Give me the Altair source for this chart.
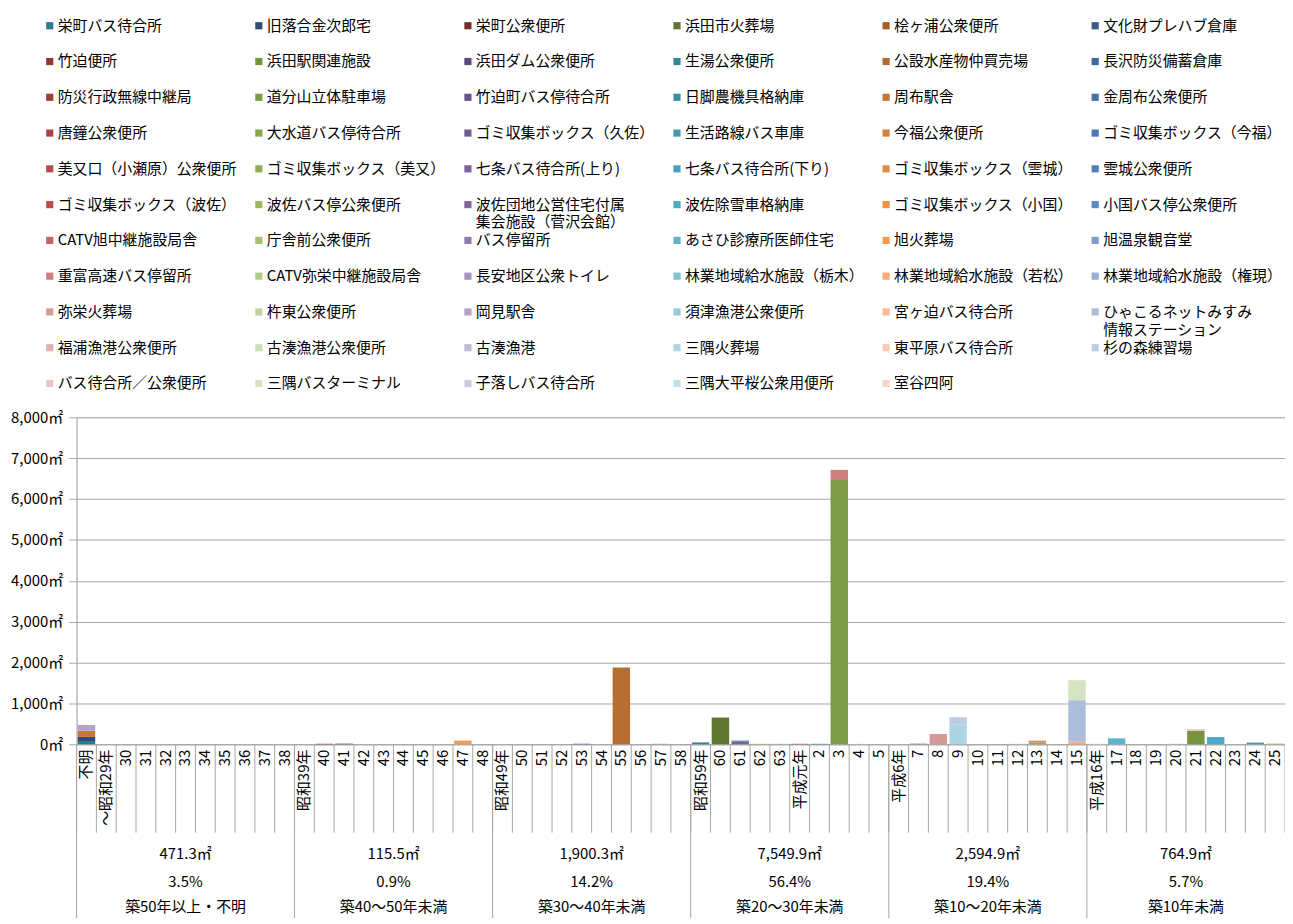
import altair as alt
import pandas as pd

# ---------------- data ----------------
categories = [
    "不明", "～昭和29年", "30", "31", "32", "33", "34", "35", "36", "37", "38",
    "昭和39年", "40", "41", "42", "43", "44", "45", "46", "47", "48",
    "昭和49年", "50", "51", "52", "53", "54", "55", "56", "57", "58",
    "昭和59年", "60", "61", "62", "63", "平成元年", "2", "3", "4", "5",
    "平成6年", "7", "8", "9", "10", "11", "12", "13", "14", "15",
    "平成16年", "17", "18", "19", "20", "21", "22", "23", "24", "25",
]

group_names = ["築50年以上・不明", "築40～50年未満", "築30～40年未満",
               "築20～30年未満", "築10～20年未満", "築10年未満"]
group_area = ["471.3㎡", "115.5㎡", "1,900.3㎡", "7,549.9㎡", "2,594.9㎡", "764.9㎡"]
group_share = ["3.5%", "0.9%", "14.2%", "56.4%", "19.4%", "5.7%"]
group_start = [0, 11, 21, 31, 41, 51]
group_size = [11, 10, 10, 10, 10, 10]

series_names = [
    "栄町バス待合所", "旧落合金次郎宅", "栄町公衆便所", "浜田市火葬場", "桧ヶ浦公衆便所", "文化財プレハブ倉庫",
    "竹迫便所", "浜田駅関連施設", "浜田ダム公衆便所", "生湯公衆便所", "公設水産物仲買売場", "長沢防災備蓄倉庫",
    "防災行政無線中継局", "道分山立体駐車場", "竹迫町バス停待合所", "日脚農機具格納庫", "周布駅舎", "金周布公衆便所",
    "唐鐘公衆便所", "大水道バス停待合所", "ゴミ収集ボックス（久佐）", "生活路線バス車庫", "今福公衆便所", "ゴミ収集ボックス（今福）",
    "美又口（小瀬原）公衆便所", "ゴミ収集ボックス（美又）", "七条バス待合所(上り)", "七条バス待合所(下り)", "ゴミ収集ボックス（雲城）", "雲城公衆便所",
    "ゴミ収集ボックス（波佐）", "波佐バス停公衆便所", "波佐団地公営住宅付属\n集会施設（菅沢会館）", "波佐除雪車格納庫", "ゴミ収集ボックス（小国）", "小国バス停公衆便所",
    "CATV旭中継施設局舎", "庁舎前公衆便所", "バス停留所", "あさひ診療所医師住宅", "旭火葬場", "旭温泉観音堂",
    "重富高速バス停留所", "CATV弥栄中継施設局舎", "長安地区公衆トイレ", "林業地域給水施設（栃木）", "林業地域給水施設（若松）", "林業地域給水施設（権現）",
    "弥栄火葬場", "杵東公衆便所", "岡見駅舎", "須津漁港公衆便所", "宮ヶ迫バス待合所", "ひゃこるネットみすみ\n情報ステーション",
    "福浦漁港公衆便所", "古湊漁港公衆便所", "古湊漁港", "三隅火葬場", "東平原バス待合所", "杉の森練習場",
    "バス待合所／公衆便所", "三隅バスターミナル", "子落しバス待合所", "三隅大平桜公衆用便所", "室谷四阿",
]

series_colors = [
    "#2F7B8D", "#2C4D75", "#772C2A", "#5F7530", "#A65D25", "#385D8A",
    "#953735", "#77933C", "#5F497A", "#31859C", "#B66D31", "#3F67A0",
    "#A03E3B", "#7F9B47", "#6A5189", "#3A8FA6", "#C67637", "#4671AA",
    "#AB4542", "#88A54D", "#735A96", "#419AB2", "#D6803C", "#4A79B6",
    "#B54C49", "#90AD53", "#7B61A0", "#46A3BD", "#E38A42", "#4F7FBB",
    "#BE4B48", "#99B95A", "#8164A2", "#4BACC6", "#F0913F", "#5E87C1",
    "#C66361", "#A4C26A", "#8F78AE", "#5DB5CC", "#F79A50", "#7F9CCB",
    "#CE7F7D", "#B2CC88", "#A294BF", "#7DC2D5", "#F8AB7C", "#97AED5",
    "#D69A98", "#BED69D", "#B0A5C8", "#95CCDB", "#F9BA96", "#ACBEDC",
    "#DFB0AF", "#CCDDB4", "#C1B8D5", "#ACD5E1", "#FAC8AF", "#BDCAE4",
    "#E8C6C5", "#D5E3C3", "#CFC8DE", "#C0E0E9", "#FBD5C4",
]

bar_category = [
    "不明", "不明", "不明", "不明",
    "40", "41", "47",
    "53", "55", "55", "57",
    "昭和59年", "60", "60", "61", "61", "62", "63", "平成元年", "2", "3", "3", "4",
    "7", "8", "9", "9", "12", "13", "13", "13", "13", "13", "15", "15", "15",
    "平成16年", "17", "20", "21", "21", "22", "24", "25",
]
bar_series = [
    "栄町バス待合所", "旧落合金次郎宅", "周布駅舎", "岡見駅舎",
    "栄町公衆便所", "浜田ダム公衆便所", "旭火葬場",
    "文化財プレハブ倉庫", "公設水産物仲買売場", "長沢防災備蓄倉庫", "大水道バス停待合所",
    "生湯公衆便所", "浜田市火葬場", "竹迫便所", "七条バス待合所(上り)", "七条バス待合所(下り)",
    "庁舎前公衆便所", "林業地域給水施設（栃木）", "防災行政無線中継局", "金周布公衆便所",
    "道分山立体駐車場", "重富高速バス停留所", "須津漁港公衆便所",
    "バス停留所", "弥栄火葬場", "三隅火葬場", "杉の森練習場", "福浦漁港公衆便所",
    "ゴミ収集ボックス（美又）", "ゴミ収集ボックス（雲城）", "ゴミ収集ボックス（波佐）",
    "ゴミ収集ボックス（小国）", "東平原バス待合所",
    "林業地域給水施設（若松）", "ひゃこるネットみすみ\n情報ステーション", "三隅バスターミナル",
    "室谷四阿", "あさひ診療所医師住宅", "CATV弥栄中継施設局舎", "浜田駅関連施設",
    "バス待合所／公衆便所", "波佐除雪車格納庫", "生活路線バス車庫", "波佐バス停公衆便所",
]
bar_value = [
    60, 120, 150, 141.3,
    10.5, 15, 90,
    12, 1868.3, 10, 10,
    45, 645, 8, 75, 15, 10, 10, 10, 10, 6463.9, 250, 8,
    15, 250, 490, 170, 8, 45, 15, 15, 10, 10, 70, 1006.9, 490,
    10, 145, 10, 330, 40, 174.9, 40, 15,
]

y_ticks = [0, 1000, 2000, 3000, 4000, 5000, 6000, 7000, 8000]

# ---------------- style ----------------
W = 1216
H = 329
PAD_L = 69
PAD_T = 409
PAD_B = 172
GRAY = "#A6A6A6"
FONT = "Noto Sans CJK JP"
FS = 15
TXT = "#000000"

# ---------------- bars ----------------
bars_df = pd.DataFrame({"cat": bar_category, "series": bar_series, "value": bar_value})
bars_df["sidx"] = bars_df["series"].map(series_names.index)

bars = alt.Chart(bars_df).mark_bar().encode(
    x=alt.X(
        "cat:N", sort=categories,
        scale=alt.Scale(domain=categories, paddingInner=0.12, paddingOuter=0.06),
        axis=alt.Axis(title=None, labelAngle=270, labelAlign="right", labelBaseline="middle",
                      ticks=False, domainColor=GRAY, labelPadding=5, labelFontSize=FS,
                      labelColor=TXT, labelFont=FONT, labelOverlap=False),
    ),
    y=alt.Y(
        "value:Q", stack="zero",
        scale=alt.Scale(domain=[0, 8000], nice=False),
        axis=alt.Axis(title=None, values=y_ticks,
                      labelExpr="format(datum.value, ',') + '㎡'",
                      grid=True, gridColor=GRAY, domainColor=GRAY, tickColor=GRAY,
                      tickSize=8, labelPadding=6, labelFontSize=FS, labelColor=TXT,
                      labelFont=FONT),
    ),
    color=alt.Color("series:N", scale=alt.Scale(domain=series_names, range=series_colors), legend=None),
    order=alt.Order("sidx:Q", sort="ascending"),
)

# ---------------- category boundaries and group labels ----------------
n_cat = len(categories)
bound_df = pd.DataFrame({"k": list(range(n_cat + 1))})
xq = alt.Scale(domain=[0, n_cat], nice=False, zero=False)

ticks = alt.Chart(bound_df).mark_rule(color=GRAY, strokeWidth=1).encode(
    x=alt.X("k:Q", scale=xq, axis=None),
    y=alt.value(H), y2=alt.value(H + 89),
)

grp_df = pd.DataFrame({
    "start": group_start,
    "mid": [s + n / 2 for s, n in zip(group_start, group_size)],
    "area": group_area, "share": group_share, "name": group_names,
})

seps = alt.Chart(grp_df).mark_rule(color=GRAY, strokeWidth=1).encode(
    x=alt.X("start:Q", scale=xq, axis=None),
    y=alt.value(H), y2=alt.value(H + 220),
)


def grp_text(field, dy):
    return alt.Chart(grp_df).mark_text(
        fontSize=FS, font=FONT, color=TXT, align="center", baseline="middle"
    ).encode(
        x=alt.X("mid:Q", scale=xq, axis=None),
        y=alt.value(H + dy),
        text=f"{field}:N",
    )


# ---------------- legend (above the plot) ----------------
leg_df = pd.DataFrame({
    "name": series_names,
    "color": series_colors,
    "col": [i % 6 for i in range(len(series_names))],
    "row": [i // 6 for i in range(len(series_names))],
})
leg_df["line1"] = leg_df["name"].str.split("\n").str[0]
leg_df["line2"] = leg_df["name"].apply(lambda s: s.split("\n")[1] if "\n" in s else "")

lx = alt.X("col:Q", scale=alt.Scale(domain=[0, 5], range=[-27, 1025]), axis=None)
ly = alt.Y("row:Q", scale=alt.Scale(domain=[0, 10], range=[-394, -34]), axis=None)

sq = alt.Chart(leg_df).mark_square(size=52, opacity=1).encode(
    x=lx, y=ly, color=alt.Color("color:N", scale=None)
)
t1 = alt.Chart(leg_df).mark_text(
    align="left", baseline="middle", dx=8, fontSize=FS, font=FONT, color=TXT
).encode(x=lx, y=ly, text="line1:N")
t2 = alt.Chart(leg_df[leg_df["line2"] != ""]).mark_text(
    align="left", baseline="middle", dx=8, dy=18, fontSize=FS, font=FONT, color=TXT
).encode(x=lx, y=ly, text="line2:N")

chart = alt.layer(
    bars, ticks, seps,
    grp_text("area", 110), grp_text("share", 139), grp_text("name", 164),
    sq, t1, t2,
).resolve_scale(x="independent", y="independent", color="independent").properties(
    width=W, height=H,
    autosize=alt.AutoSizeParams(type="none"),
    padding={"left": PAD_L, "top": PAD_T, "right": 0, "bottom": PAD_B},
).configure_view(strokeWidth=0).configure(font=FONT)

chart.save("out.html", embed_options={"renderer": "svg", "actions": False})
